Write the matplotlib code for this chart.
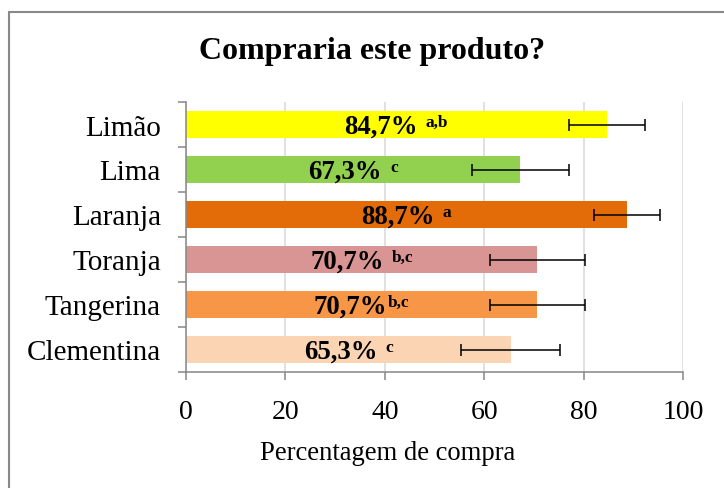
import matplotlib
matplotlib.use('Agg')
import matplotlib.pyplot as plt
from matplotlib.patches import Rectangle
import matplotlib.transforms as mtransforms

categories = ['Limão', 'Lima', 'Laranja', 'Toranja', 'Tangerina', 'Clementina']
values = [84.7, 67.3, 88.7, 70.7, 70.7, 65.3]
errors = [7.6, 9.8, 6.7, 9.6, 9.6, 10.0]
value_labels = ['84,7%', '67,3%', '88,7%', '70,7%', '70,7%', '65,3%']
letters = ['a,b', 'c', 'a', 'b,c', 'b,c', 'c']
letter_gaps = [8, 8, 8, 8, 1, 8]
colors = ['#FFFF00', '#92D050', '#E36C09', '#D99594', '#F79646', '#FBD4B4']
xticks = [0, 20, 40, 60, 80, 100]

plt.rcParams['font.family'] = ['Liberation Serif', 'DejaVu Serif']

W, H = 724, 489
fig = plt.figure(figsize=(W / 100, H / 100), dpi=100)
fig.patches.append(Rectangle((8.5 / W, -0.1), 1.2, (H - 13) / H + 0.1,
                             transform=fig.transFigure, fill=False,
                             edgecolor='#898989', lw=1.5))

ax = fig.add_axes([186 / W, 1 - 373 / H, (683 - 186) / W, (373 - 103) / H])
ypos = list(range(len(categories)))
ax.barh(ypos, values, height=0.58, color=colors, xerr=errors, zorder=2,
        error_kw=dict(ecolor='black', elinewidth=1.1, capsize=4.3, capthick=1.1, zorder=4))
ax.set_xlim(0, 100)
ax.set_ylim(len(categories) - 0.5, -0.5)
ax.set_xticks(xticks)
ax.set_yticks(ypos, categories)
ax.set_yticks([i - 0.5 for i in range(len(categories) + 1)], minor=True)
ax.tick_params(axis='y', which='major', length=0, pad=18, labelsize=21)
ax.tick_params(axis='y', which='minor', length=5.5, width=1.1, color='#868686')
ax.tick_params(axis='x', which='major', length=5.5, width=1.1, color='#868686',
               labelsize=20, pad=14)
ax.xaxis.grid(True, color='#D9D9D9', lw=1.1, zorder=0)
ax.set_axisbelow(True)
for s in ['top', 'right']:
    ax.spines[s].set_visible(False)
for s in ['left', 'bottom']:
    ax.spines[s].set_color('#868686')
    ax.spines[s].set_linewidth(1.1)

fig.text(372 / W, 1 - 52 / H, 'Compraria este produto?', ha='center', va='center',
         fontsize=23, weight='bold')
fig.text(388 / W, 1 - 454 / H, 'Percentagem de compra', ha='center', va='center',
         fontsize=19.2)

main_tr = mtransforms.offset_copy(ax.transData, fig=fig, x=0, y=-5.8, units='points')
sup_tr = mtransforms.offset_copy(ax.transData, fig=fig, x=0, y=-1.2, units='points')
texts = []
for i, (v, lab, let) in enumerate(zip(values, value_labels, letters)):
    t1 = ax.text(v / 2, i, lab, ha='left', va='baseline', fontsize=19.3,
                 weight='bold', transform=main_tr, zorder=5)
    t2 = ax.text(v / 2, i, let, ha='left', va='baseline', fontsize=12.5,
                 weight='bold', transform=sup_tr, zorder=5)
    texts.append((t1, t2))

fig.canvas.draw()
r = fig.canvas.get_renderer()
inv = ax.transData.inverted()
for i, (v, (t1, t2)) in enumerate(zip(values, texts)):
    w1 = t1.get_window_extent(r).width
    w2 = t2.get_window_extent(r).width
    cx = ax.transData.transform((v / 2, i))[0]
    total = w1 + letter_gaps[i] + w2
    x0 = cx - total / 2
    x1 = x0 + w1 + letter_gaps[i]
    t1.set_x(inv.transform((x0, 0))[0])
    t2.set_x(inv.transform((x1, 0))[0])

fig.savefig('out.png', dpi=100)
